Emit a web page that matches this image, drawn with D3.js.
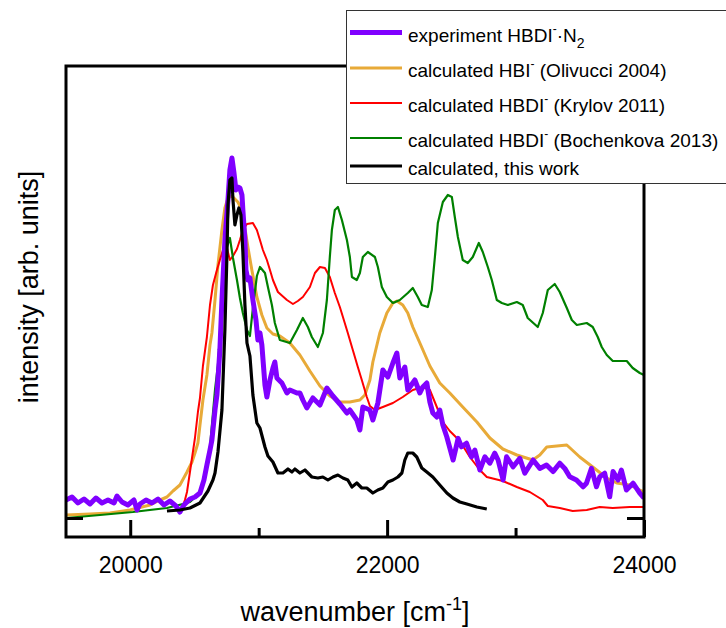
<!DOCTYPE html>
<html>
<head>
<meta charset="utf-8">
<script src="https://cdn.jsdelivr.net/npm/d3@7"></script>
<style>
  body { margin: 0; background: #fff; }
  text { font-family: "Liberation Sans", Arial, sans-serif; }
</style>
</head>
<body>
<script>
// ---------- data (wavenumber [cm^-1], intensity [arb. units]) ----------
const experiment = [[19500,4.5],[19547,5.25],[19593,3.75],[19640,4.75],[19687,3.5],[19733,5],[19780,3.75],[19827,4.5],[19874,3.75],[19897,5.5],[19936,4],[19982,3.25],[20029,4.5],[20053,2],[20076,3.5],[20123,4.5],[20169,3.75],[20216,4.75],[20263,3.25],[20309,4.25],[20356,3],[20387,1.5],[20418,3.25],[20465,4.75],[20504,5.25],[20543,6.25],[20574,9.5],[20597,13.25],[20621,17],[20636,19.5],[20660,27],[20675,30.75],[20683,34.5],[20698,42],[20714,54.5],[20722,59.5],[20737,69.5],[20761,79.5],[20776,87],[20792,90],[20807,86.5],[20823,82],[20838,82.75],[20854,82.5],[20870,80.75],[20877,77],[20893,69.5],[20901,62],[20916,59.5],[20932,60],[20955,54.5],[20979,49.5],[20994,44.5],[21010,46.25],[21025,43.25],[21049,33.25],[21064,30.25],[21088,34.5],[21111,37.5],[21126,39],[21142,35],[21181,33.75],[21220,31.25],[21243,32],[21298,31.25],[21321,31.25],[21344,29.5],[21375,27.5],[21422,30],[21477,28.25],[21531,32.5],[21578,30.5],[21632,28.5],[21687,26.25],[21710,27],[21764,24.5],[21788,22],[21811,27.75],[21866,27],[21889,24.5],[21928,28.75],[21967,37],[22006,35.25],[22045,38.75],[22076,41.25],[22099,35],[22138,37.75],[22161,32],[22216,34.5],[22255,31.25],[22278,32.75],[22309,33.75],[22333,29],[22356,26.25],[22387,25.25],[22410,27],[22434,23.25],[22465,20.25],[22514,14.5],[22553,19.9],[22579,17.8],[22618,18.7],[22657,15.3],[22683,17],[22722,12],[22761,15.3],[22800,13.7],[22838,16.2],[22864,14.5],[22903,9.5],[22930,15.3],[22981,12.8],[23033,14.9],[23072,11.2],[23137,14.5],[23189,12.4],[23241,13.25],[23292,11.6],[23344,13.7],[23383,12.4],[23422,10.3],[23474,9.5],[23526,7.8],[23552,8.7],[23591,12.4],[23630,7.8],[23656,10.3],[23694,11.2],[23733,5.3],[23759,11.6],[23798,9.5],[23824,12],[23863,7],[23915,8.7],[23967,6.2],[24000,5]];

const olivucci2004 = [[19500,0.75],[19687,1],[19842,1.25],[19998,2],[20154,3.25],[20232,4.5],[20286,5.25],[20333,6.75],[20387,8.25],[20442,11.5],[20481,14],[20504,16.25],[20527,18.75],[20543,23.25],[20566,29.5],[20597,35.75],[20621,43.25],[20636,46.25],[20660,54.5],[20683,63.25],[20714,72],[20737,77.5],[20761,80],[20792,80.5],[20838,79],[20870,77],[20893,72.5],[20916,67.75],[20947,62],[20986,55.25],[21025,50.75],[21064,47.5],[21111,46],[21165,45.5],[21243,43.75],[21321,40.75],[21399,36.75],[21477,33],[21554,30.5],[21632,29],[21710,29],[21788,29.5],[21827,30.75],[21866,34.5],[21889,39],[21943,46.25],[21998,51.25],[22045,53.75],[22076,54.25],[22122,53.25],[22161,51.25],[22200,47.75],[22255,43.75],[22333,38],[22410,33.75],[22488,31.25],[22589,27.75],[22699,24],[22800,20],[22901,17.25],[23010,15.75],[23134,14.5],[23189,15.75],[23243,17.75],[23399,18.25],[23500,15.25],[23601,12.75],[23710,10],[23788,8.75],[23889,8.25],[23967,7],[24000,6.5]];

const krylov2011 = [[20403,2.5],[20426,4.5],[20442,6.5],[20465,11.5],[20504,20],[20527,26.5],[20543,30],[20566,38],[20597,45.25],[20621,53.25],[20644,58.25],[20675,62],[20698,64.5],[20722,67],[20753,67.5],[20776,64.5],[20800,65.5],[20831,67.25],[20854,69.5],[20877,72],[20909,73.5],[20955,73.75],[20986,72],[21010,69.5],[21033,67],[21064,64.5],[21088,62],[21111,59.5],[21150,56.5],[21220,54.5],[21267,53.5],[21305,54.25],[21344,55.25],[21399,57.75],[21438,61.25],[21477,62.75],[21516,62.5],[21554,60.25],[21593,56.25],[21632,52.75],[21656,50.25],[21694,46.25],[21733,42],[21772,37.75],[21803,34.5],[21842,30.25],[21866,28],[21905,27],[21967,27.75],[22045,28.75],[22122,30.25],[22200,32],[22278,32.75],[22333,32],[22387,27.75],[22434,24],[22488,21.75],[22566,19.25],[22644,15.25],[22722,12],[22776,10.25],[22901,9.25],[23010,7.75],[23111,6.5],[23212,4.5],[23251,3],[23344,2.5],[23445,1.75],[23554,2],[23655,2.75],[23757,2.5],[23889,2.75],[24000,2.75]];

const bochenkova2013 = [[19500,0],[19765,0.75],[20021,1.5],[20286,2.5],[20410,3.5],[20465,4],[20543,6.25],[20566,8.75],[20597,12.5],[20621,17.75],[20660,32],[20683,38.25],[20698,45.75],[20722,62.5],[20753,67.75],[20776,70],[20800,65],[20831,59.5],[20854,55],[20877,51.25],[20909,47],[20932,45.5],[20955,52.5],[20986,60.5],[21010,62.75],[21049,61.25],[21072,57.75],[21103,53.25],[21126,48.75],[21165,44.5],[21243,43.75],[21298,47],[21344,50],[21383,47.75],[21414,45.25],[21461,42.75],[21500,46.25],[21531,54.5],[21554,65.25],[21570,72],[21593,77],[21617,77.75],[21648,74.5],[21687,69.5],[21710,65.25],[21726,60.25],[21764,59.5],[21788,61.25],[21811,65.25],[21850,66.5],[21905,65.25],[21928,62.75],[21959,57.75],[21998,55.25],[22045,53.75],[22099,54.5],[22161,56.25],[22200,57.5],[22239,55.25],[22270,53.25],[22317,52.75],[22348,57],[22372,65.25],[22395,73.75],[22434,79],[22473,80.75],[22504,80.25],[22527,75.25],[22551,70.25],[22589,64.5],[22628,63.75],[22667,65.25],[22714,68.75],[22745,66.5],[22784,62.75],[22815,59.5],[22854,54.5],[22893,53.75],[22940,53.25],[23010,54],[23056,53.25],[23095,50],[23173,47.75],[23212,51.25],[23251,57],[23305,58.5],[23344,56.5],[23399,52.5],[23438,49.5],[23477,48.25],[23554,48.75],[23601,47.75],[23640,45.25],[23671,42.75],[23710,40.75],[23757,39.25],[23866,39.25],[23912,37.5],[23967,36.25],[24000,35.75]];

const thisWork = [[20286,1.75],[20387,2],[20465,2.5],[20543,3.75],[20605,6.75],[20644,9.5],[20660,11.25],[20683,16.5],[20714,27],[20737,47],[20753,65.75],[20761,78.25],[20776,84.5],[20792,85],[20800,79.5],[20815,73.25],[20831,75.75],[20846,77.5],[20862,75.75],[20877,66.5],[20893,53.25],[20909,43.75],[20932,40.5],[20955,30.75],[20986,23.75],[21010,22.5],[21049,17.75],[21072,15.5],[21111,14],[21150,11.25],[21189,11.25],[21228,12.25],[21259,11.5],[21282,12.25],[21321,11.25],[21360,12],[21414,10.25],[21461,10],[21500,10.25],[21539,9.5],[21578,10.25],[21617,10.75],[21656,10],[21694,9.5],[21726,7.75],[21764,8.75],[21803,7.5],[21842,7.5],[21889,6.25],[21928,7],[21967,7.5],[22006,9],[22045,9.5],[22084,10.25],[22115,11.25],[22138,14.5],[22161,16.25],[22200,16.25],[22231,15.25],[22270,12.5],[22309,11.5],[22356,10.25],[22410,8.25],[22465,6.25],[22512,5],[22566,4],[22621,3.5],[22699,2.75],[22776,2.25]];

const xMajorTicks = [20000, 22000, 24000];
const xMinorTicks = [21000, 23000];
const yTicks = [0];
const xDomain = [19500, 24000];
const yDomain = [-4.75, 113];

// ---------- layout ----------
const W = 726, H = 628;
const L = 66, R = 644, T = 66, B = 537;

const svg = d3.select("body").append("svg").attr("width", W).attr("height", H);

const x = d3.scaleLinear().domain(xDomain).range([L, R]);
const y = d3.scaleLinear().domain(yDomain).range([B, T]);

svg.append("defs").append("clipPath").attr("id", "plotclip")
  .append("rect").attr("x", L).attr("y", T).attr("width", R - L).attr("height", B - T);

const series = [
  { name: "olivucci", data: olivucci2004, color: "#E8AA38", width: 3 },
  { name: "krylov", data: krylov2011, color: "#FF0000", width: 2 },
  { name: "bochenkova", data: bochenkova2013, color: "#008000", width: 2.2 },
  { name: "experiment", data: experiment, color: "#8000FF", width: 5 },
  { name: "thiswork", data: thisWork, color: "#000000", width: 3.2 }
];

const line = d3.line().x(d => x(d[0])).y(d => y(d[1]));
const g = svg.append("g").attr("clip-path", "url(#plotclip)");
series.forEach(s => {
  g.append("path").datum(s.data)
    .attr("fill", "none").attr("stroke", s.color)
    .attr("stroke-width", s.width).attr("stroke-linejoin", "round")
    .attr("d", line);
});

// axes (inward ticks)
const fs = 23;
const xAxis = d3.axisBottom(x).tickValues(xMajorTicks).tickSizeInner(-17).tickSizeOuter(0)
  .tickPadding(20).tickFormat(d3.format("d"));
const gx = svg.append("g").attr("transform", `translate(0,${B})`).call(xAxis);
gx.select(".domain").remove();
gx.selectAll("line").attr("stroke", "#000").attr("stroke-width", 3);
gx.selectAll("text").attr("font-size", fs).attr("fill", "#000")
  .style("font-family", '"Liberation Sans", Arial, sans-serif');

const xAxisMinor = d3.axisBottom(x).tickValues(xMinorTicks).tickSizeInner(-9).tickSizeOuter(0).tickFormat("");
const gxm = svg.append("g").attr("transform", `translate(0,${B})`).call(xAxisMinor);
gxm.select(".domain").remove();
gxm.selectAll("line").attr("stroke", "#000").attr("stroke-width", 3);

const yAxisL = d3.axisLeft(y).tickValues(yTicks).tickSizeInner(-17).tickSizeOuter(0).tickFormat("");
const gyl = svg.append("g").attr("transform", `translate(${L},0)`).call(yAxisL);
gyl.select(".domain").remove();
gyl.selectAll("line").attr("stroke", "#000").attr("stroke-width", 3);

const yAxisR = d3.axisRight(y).tickValues(yTicks).tickSizeInner(-17).tickSizeOuter(0).tickFormat("");
const gyr = svg.append("g").attr("transform", `translate(${R},0)`).call(yAxisR);
gyr.select(".domain").remove();
gyr.selectAll("line").attr("stroke", "#000").attr("stroke-width", 3);

// frame
svg.append("rect").attr("x", L).attr("y", T).attr("width", R - L).attr("height", B - T)
  .attr("fill", "none").attr("stroke", "#000").attr("stroke-width", 3);

// axis titles
const xt = svg.append("text").attr("x", (L + R) / 2).attr("y", 621)
  .attr("text-anchor", "middle").attr("font-size", 27).attr("fill", "#000");
xt.append("tspan").text("wavenumber [cm");
xt.append("tspan").attr("font-size", 18).attr("dy", -11).text("-1");
xt.append("tspan").attr("dy", 11).text("]");

svg.append("text").attr("transform", `translate(38,287) rotate(-90)`)
  .attr("text-anchor", "middle").attr("font-size", 27).attr("fill", "#000")
  .text("intensity [arb. units]");

// legend
const lg = svg.append("g");
lg.append("rect").attr("x", 346.5).attr("y", 10.5).attr("width", 400).attr("height", 173)
  .attr("fill", "#fff").attr("stroke", "#333").attr("stroke-width", 1);

const legendRows = [
  { s: series[3], yy: 32.5, parts: [["experiment HBDI", 0], ["-", "sup"], ["·N", 0], ["2", "sub"]] },
  { s: series[0], yy: 68, parts: [["calculated HBI", 0], ["-", "sup"], [" (Olivucci 2004)", 0]] },
  { s: series[1], yy: 103, parts: [["calculated HBDI", 0], ["-", "sup"], [" (Krylov 2011)", 0]] },
  { s: series[2], yy: 138, parts: [["calculated HBDI", 0], ["-", "sup"], [" (Bochenkova 2013)", 0]] },
  { s: series[4], yy: 166, parts: [["calculated, this work", 0]] }
];
legendRows.forEach(r => {
  lg.append("line").attr("x1", 350).attr("x2", 402).attr("y1", r.yy).attr("y2", r.yy)
    .attr("stroke", r.s.color).attr("stroke-width", r.s.width);
  const t = lg.append("text").attr("x", 408).attr("y", r.yy + 9).attr("font-size", 19).attr("fill", "#000");
  let shift = 0;
  r.parts.forEach(p => {
    const ts = t.append("tspan").text(p[0]);
    if (p[1] === "sup") { ts.attr("font-size", 12).attr("dy", -9 - shift); shift = -9; }
    else if (p[1] === "sub") { ts.attr("font-size", 14).attr("dy", 6 - shift); shift = 6; }
    else { if (shift !== 0) ts.attr("dy", -shift); shift = 0; }
  });
});
</script>
</body>
</html>
